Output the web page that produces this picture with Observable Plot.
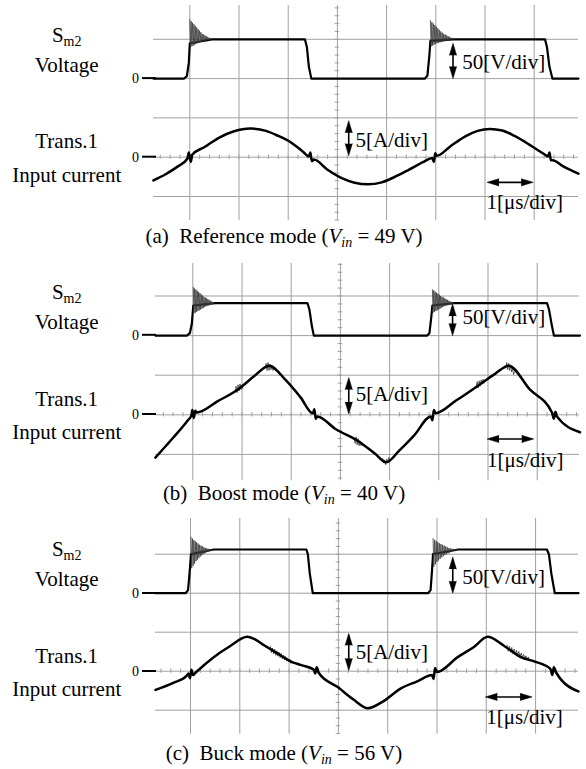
<!DOCTYPE html>
<html><head><meta charset="utf-8">
<script src="https://cdn.jsdelivr.net/npm/d3@7"></script>
<script src="https://cdn.jsdelivr.net/npm/@observablehq/plot@0.6"></script>
<style>
body{margin:0;background:#fff;}
#fig{position:relative;width:586px;height:769px;overflow:hidden;background:#fff;}
#fig > svg{position:absolute;left:0;}
#overlay{top:0;pointer-events:none;}
</style>
</head><body>
<div id="fig"></div>
<script>
// ---------- scale settings ----------
const VOLT_PER_DIV = 50;   // [V/div]
const AMP_PER_DIV = 5;     // [A/div]
const gridT = [0, 1, 2, 3, 4, 5, 6, 7];      // vertical grid lines (μs, 1 μs/div)
const gridDiv = [-1, 0, 1, 2, 3];            // horizontal grid lines (div)
const centerT = 3;                           // centre axis carrying minor ticks

// ---------- (a) Reference mode, Vin = 49 V ----------
const voltA = [[-0.74,0],[-0.12,0],[-0.06,3],[-0.02,20],[0.00,45],[0.45,50],[2.34,50],[2.38,40],[2.42,15],[2.47,0],
  [4.78,0],[4.83,4],[4.87,30],[4.89,48],[5.36,50],[7.22,50],[7.26,40],[7.31,15],[7.37,0],[7.90,0]];
const ringA1 = {t: 0.00, dt: 0.014, v: [75,40,73,41,71,42,69,43,67,44,65,45,63,46,61,46.5,59,47,57,47.5,56,48,55,48.5,54,49,53,49.5,52,49.7,51,50]};
const ringA2 = {t: 4.89, dt: 0.015, v: [74,41,72,42,70,43,68,44,66,45,64,45.5,62,46,60,46.5,58.5,47,57,47.5,56,48,55,48.5,54,49,53,49.5,52,49.7,51,50]};
const currA = [[-0.74,-2.95],[-0.5,-2.2],[-0.25,-1.2],[-0.05,-0.2],[-0.02,0.6],[0.02,-0.6],[0.05,0.3],[0.3,1.3],
  [0.6,2.5],[0.9,3.3],[1.22,3.65],[1.55,3.35],[1.8,2.7],[2.05,1.9],[2.3,0.7],[2.42,0.1],[2.45,0.6],[2.48,-0.5],
  [2.52,-0.3],[2.8,-1.6],[3.1,-2.7],[3.35,-3.25],[3.62,-3.45],[3.9,-3.2],[4.15,-2.55],[4.45,-1.6],[4.75,-0.6],
  [4.93,-0.1],[4.96,-0.6],[4.99,0.5],[5.02,0.2],[5.3,1.4],[5.6,2.65],[5.85,3.35],[6.1,3.6],[6.35,3.4],[6.6,2.7],
  [6.9,1.6],[7.2,0.4],[7.28,0.1],[7.31,0.6],[7.34,-0.4],[7.37,-0.4],[7.6,-1.2],[7.9,-2.1]];
const noiseA = [];

// ---------- (b) Boost mode, Vin = 40 V ----------
const voltB = [[-0.76,0],[-0.12,0],[-0.06,3],[-0.02,15],[0.01,38],[0.45,41],[2.33,41],[2.37,33],[2.42,12],[2.46,0],
  [4.76,0],[4.81,3],[4.85,25],[4.87,38],[5.30,41],[7.20,41],[7.24,33],[7.30,12],[7.34,0],[7.87,0]];
const ringB1 = {t: 0.01, dt: 0.0135, v: [61,28,59.5,29,58,30,56.5,31,55,32,53.5,33,52,34,50.5,35,49,36,48,37,47,37.5,46,38,45,38.5,44,39,43,39.5,42,40]};
const ringB2 = {t: 4.87, dt: 0.014, v: [58,29,57,30,55.5,31,54,32,53,33,51.5,34,50,35,49,36,48,37,47,37.5,46,38,45,38.5,44,39,43,39.5,42,40,41.5,40.5]};
const currB = [[-0.76,-5.4],[-0.4,-2.9],[-0.1,-0.7],[-0.03,-0.1],[-0.01,0.6],[0.02,-0.4],[0.05,0.5],[0.08,0.3],
  [0.5,1.7],[0.94,3.3],[1.25,4.9],[1.55,6.2],[1.9,4.3],[2.19,2.2],
  [2.44,0.2],[2.47,0.7],[2.5,-0.5],[2.53,-0.2],[2.9,-1.8],[3.36,-3.3],[3.7,-4.9],
  [3.93,-6.0],[4.2,-4.5],[4.5,-2.6],[4.84,-0.2],[4.87,-0.7],[4.9,0.6],[4.93,0.2],[5.35,1.8],[5.85,3.9],
  [6.15,5.2],[6.42,6.2],[6.85,3.2],[7.3,0.3],[7.34,-0.5],[7.37,0.4],[7.4,-0.2],[7.87,-2.2]];
const noiseB = [
  {t: 0.86, dt: 0.02, v: [3.0,3.6,2.8,3.8,3.0,3.9,3.2,3.7,3.3]},
  {t: 1.47, dt: 0.02, v: [5.9,6.5,5.6,6.6,5.6,6.4,5.7,6.2,5.6,5.9]},
  {t: 3.28, dt: 0.02, v: [-3.0,-3.6,-2.8,-3.8,-3.0,-3.9,-3.3,-3.9,-3.5]},
  {t: 3.86, dt: 0.02, v: [-5.5,-6.1,-5.7,-6.3,-5.6,-6.0,-5.4,-5.7]},
  {t: 5.76, dt: 0.02, v: [3.6,4.2,3.4,4.3,3.6,4.4,3.9,4.5,4.0]},
  {t: 6.36, dt: 0.02, v: [5.9,6.6,5.7,6.5,5.6,6.3,5.4,5.9,5.1,5.4]}
];

// ---------- (c) Buck mode, Vin = 56 V ----------
const voltC = [[-0.71,0],[-0.10,0],[-0.05,4],[-0.02,25],[0.01,50],[0.47,56],[2.35,56],[2.38,50],[2.42,25],[2.48,0],
  [4.82,0],[4.87,4],[4.90,30],[4.92,50],[5.43,56],[7.23,56],[7.27,50],[7.32,25],[7.39,0],[7.87,0]];
const ringC1 = {t: 0.01, dt: 0.0145, v: [72,32,70,35,68,38,66.5,41,65,43,63.5,45,62,47,61,48.5,60,50,59,51,58,52,57.5,53,57,54,56.5,54.5,56.3,55,56,55.5]};
const ringC2 = {t: 4.92, dt: 0.016, v: [70,34,68.5,37,67,40,65.5,42,64,44,63,46,62,47.5,61,49,60,50,59,51,58,52,57.5,53,57,54,56.5,54.5,56.3,55,56,55.5]};
const currC = [[-0.71,-2.4],[-0.35,-1.5],[-0.08,-0.6],[-0.04,-0.3],[-0.01,-0.9],[0.02,0.2],[0.05,-0.5],[0.1,-0.2],
  [0.47,1.8],[0.8,3.2],[1.15,4.4],[1.3,4.1],[1.5,3.3],[1.77,2.25],[2.05,1.2],[2.25,0.77],[2.5,0.2],[2.53,-0.3],
  [2.56,0.5],[2.6,-0.2],[3.0,-2.1],[3.3,-3.6],[3.6,-4.75],[3.9,-3.9],[4.27,-2.2],[4.6,-1.3],[4.9,-0.5],
  [4.93,-1.0],[4.96,0.4],[5.0,-0.1],[5.42,1.8],[5.75,3.1],[6.03,4.4],[6.35,3.3],[6.7,1.8],[7.0,1.2],[7.3,0.3],
  [7.34,-0.5],[7.37,0.5],[7.42,-0.2],[7.87,-2.6]];
const noiseC = [
  {t: 1.62, dt: 0.022, v: [3.15,2.37,2.98,2.20,2.82,2.03,2.60,1.92,2.43,1.75,2.27,1.58,2.05,1.47,1.88,1.30,1.67,1.18,1.50,1.02]},
  {t: 6.42, dt: 0.024, v: [3.35,2.57,3.20,2.42,3.04,2.27,2.84,2.16,2.68,2.01,2.53,1.85,2.33,1.75,2.17,1.60,1.97,1.49,1.82,1.34]}
];

// ---------- texts ----------
const captions = [
  {tag: "(a)", mode: "Reference mode", vin: "49"},
  {tag: "(b)", mode: "Boost mode", vin: "40"},
  {tag: "(c)", mode: "Buck mode", vin: "56"}
];
const scaleLabels = {v: "50[V/div]", i: "5[A/div]", t: "1[μs/div]"};

// ---------- layout (pixels) ----------
const panels = [
  {volt: voltA, rings: [ringA1, ringA2], curr: currA, noise: noiseA, cap: captions[0],
   top: 5, bottom: 220, left: 153, right: 578, x0: 189.3, pxX: 49.2, y0: 156.7, pxY: 39.3, capY: 243,
   ann: {vT: 5.35, vY: [2.0, 2.9], vTx: [5.54, 2.42], iT: 3.23, iY: [0.04, 0.93], iTx: [3.37, 0.42],
         tY: -0.64, tT: [6.04, 6.98], tTx: [6.03, -1.15]}},
  {volt: voltB, rings: [ringB1, ringB2], curr: currB, noise: noiseB, cap: captions[1],
   top: 262.7, bottom: 480, left: 155, right: 579, x0: 192.3, pxX: 49.2, y0: 414, pxY: 39.6, capY: 500,
   ann: {vT: 5.28, vY: [2.0, 2.8], vTx: [5.48, 2.46], iT: 3.17, iY: [0.02, 0.94], iTx: [3.31, 0.52],
         tY: -0.61, tT: [5.98, 6.93], tTx: [5.98, -1.16]}},
  {volt: voltC, rings: [ringC1, ringC2], curr: currC, noise: noiseC, cap: captions[2],
   top: 518.3, bottom: 734, left: 155, right: 578, x0: 190, pxX: 49.3, y0: 671, pxY: 39.0, capY: 760,
   ann: {vT: 5.32, vY: [2.0, 2.93], vTx: [5.51, 2.42], iT: 3.21, iY: [0.02, 0.97], iTx: [3.35, 0.49],
         tY: -0.66, tT: [5.98, 6.93], tTx: [6.0, -1.17]}}
];

const FONT = "Liberation Serif, Times New Roman, serif";
const fig = document.getElementById("fig");
const vy = v => 2 + v / VOLT_PER_DIV;
const iy = a => a / AMP_PER_DIV;

for (const p of panels) {
  const xd = [(p.left - p.x0) / p.pxX, (p.right - p.x0) / p.pxX];
  const yd = [(p.y0 - p.bottom) / p.pxY, (p.y0 - p.top) / p.pxY];
  const minorT = d3.range(Math.ceil(xd[0] / 0.2) * 0.2, xd[1], 0.2);
  const minorY = d3.range(Math.ceil(yd[0] / 0.2) * 0.2, yd[1], 0.2);
  const tk = 2.2;
  const ringPts = p.rings.flatMap((r, k) => r.v.map((v, i) => ({k, t: r.t + i * r.dt, y: vy(v)})));
  const noisePts = p.noise.flatMap((r, k) => r.v.map((v, i) => ({k, t: r.t + i * r.dt, y: iy(v)})));
  const a = p.ann;
  const head = {shape: "spike", anchor: "end", length: 12, r: 3.6, fill: "black", stroke: "black", strokeWidth: 0.5};
  const chart = Plot.plot({
    width: 586, height: p.bottom - p.top,
    marginLeft: p.left, marginRight: 586 - p.right, marginTop: 0, marginBottom: 0,
    x: {domain: xd, axis: null},
    y: {domain: yd, axis: null},
    style: {background: "transparent", overflow: "visible"},
    marks: [
      Plot.ruleX(gridT, {stroke: "#a0a0a0", strokeWidth: 1}),
      Plot.ruleY(gridDiv, {stroke: "#a0a0a0", strokeWidth: 1}),
      Plot.ruleX(minorT, {x: d => d, y1: -tk / p.pxY, y2: tk / p.pxY, stroke: "#a0a0a0"}),
      Plot.ruleY(minorY, {y: d => d, x1: centerT - tk / p.pxX, x2: centerT + tk / p.pxX, stroke: "#a0a0a0"}),
      Plot.line(p.volt, {x: d => d[0], y: d => vy(d[1]), stroke: "#000", strokeWidth: 2.2}),
      Plot.line(ringPts, {x: "t", y: "y", z: "k", stroke: "#3a3a3a", strokeWidth: 0.8}),
      Plot.line(noisePts, {x: "t", y: "y", z: "k", stroke: "#3a3a3a", strokeWidth: 0.8}),
      Plot.line(p.curr, {x: d => d[0], y: d => iy(d[1]), stroke: "#000", strokeWidth: 2.5, curve: "monotone-x"}),
      // V/div arrow
      Plot.ruleX([a.vT], {y1: a.vY[0] + 0.1, y2: a.vY[1] - 0.1, stroke: "#000", strokeWidth: 1.6}),
      Plot.vector([a.vT], {x: d => d, y: a.vY[1], rotate: 0, ...head}),
      Plot.vector([a.vT], {x: d => d, y: a.vY[0], rotate: 180, ...head}),
      Plot.text([scaleLabels.v], {x: a.vTx[0], y: a.vTx[1], text: d => d, textAnchor: "start", fontSize: 21, fontFamily: FONT, fill: "#000"}),
      // A/div arrow
      Plot.ruleX([a.iT], {y1: a.iY[0] + 0.1, y2: a.iY[1] - 0.1, stroke: "#000", strokeWidth: 1.6}),
      Plot.vector([a.iT], {x: d => d, y: a.iY[1], rotate: 0, ...head}),
      Plot.vector([a.iT], {x: d => d, y: a.iY[0], rotate: 180, ...head}),
      Plot.text([scaleLabels.i], {x: a.iTx[0], y: a.iTx[1], text: d => d, textAnchor: "start", fontSize: 21, fontFamily: FONT, fill: "#000"}),
      // μs/div arrow
      Plot.ruleY([a.tY], {x1: a.tT[0] + 0.1, x2: a.tT[1] - 0.1, stroke: "#000", strokeWidth: 1.6}),
      Plot.vector([a.tY], {y: d => d, x: a.tT[0], rotate: -90, ...head}),
      Plot.vector([a.tY], {y: d => d, x: a.tT[1], rotate: 90, ...head}),
      Plot.text([scaleLabels.t], {x: a.tTx[0], y: a.tTx[1], text: d => d, textAnchor: "start", fontSize: 21, fontFamily: FONT, fill: "#000"})
    ]
  });
  chart.style.top = p.top + "px";
  fig.appendChild(chart);
}

// ---------- labels overlay ----------
const svg = d3.select(fig).append("svg").attr("id", "overlay")
  .attr("width", 586).attr("height", 769)
  .style("font-family", FONT).style("fill", "#000");
const LX = 66.7;
for (const p of panels) {
  const vz = p.y0 - 2 * p.pxY;
  const s = svg.append("text").attr("x", LX).attr("y", p.y0 - 115).attr("text-anchor", "middle").attr("font-size", 21);
  s.append("tspan").text("S");
  s.append("tspan").attr("font-size", 14).attr("dy", 4).text("m2");
  svg.append("text").attr("x", LX).attr("y", p.y0 - 85).attr("text-anchor", "middle").attr("font-size", 21).text("Voltage");
  svg.append("text").attr("x", LX).attr("y", p.y0 - 8.5).attr("text-anchor", "middle").attr("font-size", 21).text("Trans.1");
  svg.append("text").attr("x", LX).attr("y", p.y0 + 25).attr("text-anchor", "middle").attr("font-size", 21).text("Input current");
  for (const yz of [vz, p.y0]) {
    svg.append("text").attr("x", 139).attr("y", yz).attr("dy", "0.35em").attr("text-anchor", "end").attr("font-size", 14).text("0");
    svg.append("line").attr("x1", 142).attr("x2", 156).attr("y1", yz).attr("y2", yz).attr("stroke", "#000").attr("stroke-width", 2);
  }
  const c = svg.append("text").attr("x", 284).attr("y", p.capY).attr("text-anchor", "middle").attr("font-size", 21);
  c.append("tspan").text(p.cap.tag + "\u00a0\u00a0" + p.cap.mode + " (");
  c.append("tspan").attr("font-style", "italic").text("V");
  c.append("tspan").attr("font-style", "italic").attr("font-size", 14).attr("dy", 4).text("in");
  c.append("tspan").attr("dy", -4).text(" = " + p.cap.vin + " V)");
}
</script>
</body></html>
